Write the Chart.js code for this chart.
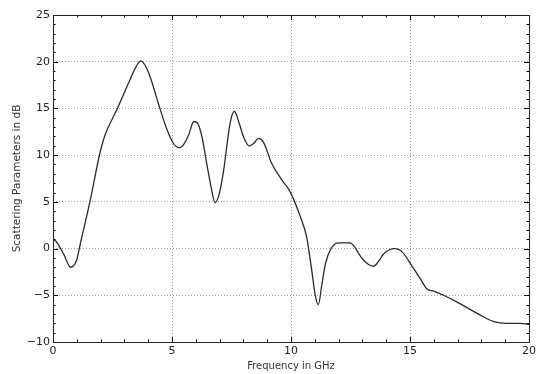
<!DOCTYPE html>
<html>
<head>
<meta charset="utf-8">
<script src="https://cdn.jsdelivr.net/npm/chart.js@4"></script>
<style>
  html, body { margin: 0; padding: 0; background: #fff; }
  #wrap { width: 537px; height: 374px; }
</style>
</head>
<body>
<div id="wrap"><canvas id="chart"></canvas></div>
<script>
// frequency samples (GHz) and S-parameter values (dB)
const freqGHz = [0, 0.15, 0.45, 0.74, 1.0, 1.13, 1.55, 1.97, 2.18, 2.67, 3.17, 3.5, 3.68, 3.85, 4.08, 4.43, 4.78, 5.05, 5.3, 5.45, 5.69, 5.92, 6.1, 6.28, 6.46, 6.65, 6.81, 6.98, 7.16, 7.44, 7.62, 7.8, 8.0, 8.24, 8.45, 8.63, 8.84, 9.19, 9.6, 9.96, 10.38, 10.66, 10.87, 11.02, 11.15, 11.3, 11.45, 11.64, 11.99, 12.48, 12.97, 13.2, 13.46, 13.7, 13.88, 14.37, 14.65, 15.14, 15.45, 15.7, 16.05, 16.5, 16.96, 17.45, 17.94, 18.5, 19.06, 19.62, 20];
const sParamDb = [1.0, 0.7, -0.6, -2.0, -1.2, 0.3, 5.0, 10.2, 12.1, 14.8, 17.7, 19.5, 20.1, 19.7, 18.4, 15.5, 12.8, 11.3, 10.8, 11.0, 12.1, 13.6, 13.3, 11.7, 9.1, 6.5, 4.9, 5.8, 8.2, 13.4, 14.7, 13.6, 12.0, 11.0, 11.3, 11.8, 11.4, 9.1, 7.4, 6.1, 3.5, 1.2, -2.3, -5.0, -6.0, -3.8, -1.6, -0.2, 0.6, 0.6, -1.0, -1.6, -1.9, -1.3, -0.6, 0.0, -0.3, -2.1, -3.3, -4.3, -4.6, -5.1, -5.7, -6.4, -7.1, -7.8, -8.0, -8.0, -8.1];
const xTicks = [0, 5, 10, 15, 20];
const yTicks = [-10, -5, 0, 5, 10, 15, 20, 25];

const points = freqGHz.map((f, i) => ({ x: f, y: sParamDb[i] }));
const fontFam = '"DejaVu Sans", sans-serif';

// inward ticks on all four sides plus a full frame, matplotlib style
const frameTicks = {
  id: 'frameTicks',
  afterDraw(chart) {
    const { ctx, chartArea: a, scales } = chart;
    const xs = scales.x, ys = scales.y;
    ctx.save();
    ctx.strokeStyle = '#000';
    ctx.lineWidth = 1;
    const line = (x1, y1, x2, y2) => {
      ctx.beginPath(); ctx.moveTo(x1, y1); ctx.lineTo(x2, y2); ctx.stroke();
    };
    for (let v = 0; v <= 20; v += 1) {
      const px = Math.round(xs.getPixelForValue(v)) + 0.5;
      const len = v % 5 === 0 ? 5 : 2.5;
      line(px, a.bottom, px, a.bottom - len);
      line(px, a.top, px, a.top + len);
    }
    for (let v = -10; v <= 25; v += 1) {
      const py = Math.round(ys.getPixelForValue(v)) + 0.5;
      const len = v % 5 === 0 ? 5 : 2.5;
      line(a.left, py, a.left + len, py);
      line(a.right, py, a.right - len, py);
    }
    ctx.strokeStyle = '#222';
    ctx.strokeRect(Math.round(a.left) + 0.5, Math.round(a.top) + 0.5,
      Math.round(a.right - a.left), Math.round(a.bottom - a.top));
    ctx.restore();
  }
};

new Chart(document.getElementById('chart'), {
  type: 'scatter',
  data: {
    datasets: [{
      data: points,
      showLine: true,
      borderColor: '#2a2a2a',
      borderWidth: 1.3,
      pointRadius: 0,
      cubicInterpolationMode: 'monotone',
      fill: false
    }]
  },
  options: {
    responsive: true,
    maintainAspectRatio: false,
    animation: false,
    layout: { padding: { left: 11, right: 0, top: 15, bottom: 0 } },
    plugins: { legend: { display: false }, tooltip: { enabled: false } },
    scales: {
      x: {
        type: 'linear', min: 0, max: 20,
        afterBuildTicks: s => { s.ticks = xTicks.map(v => ({ value: v })); },
        afterFit: s => { s.height = 32; s.paddingRight = 8; },
        grid: { color: '#a0a0a0', lineWidth: 1, drawTicks: false },
        border: { display: false, dash: [1, 2] },
        ticks: { color: '#222', padding: 3, font: { family: fontFam, size: 11 },
                 callback: v => String(v).replace('-', '\u2212') },
        title: { display: true, text: 'Frequency in GHz', color: '#333', padding: { top: 0, bottom: 2 },
                 font: { family: fontFam, size: 10 } }
      },
      y: {
        type: 'linear', min: -10, max: 25,
        afterBuildTicks: s => { s.ticks = yTicks.map(v => ({ value: v })); },
        afterFit: s => { s.width = 42; },
        grid: { color: '#a0a0a0', lineWidth: 1, drawTicks: false },
        border: { display: false, dash: [1, 2] },
        ticks: { color: '#222', padding: 3, font: { family: fontFam, size: 11 },
                 callback: v => String(v).replace('-', '\u2212') },
        title: { display: true, text: 'Scattering Parameters in dB', color: '#333', padding: { top: 0, bottom: 4 },
                 font: { family: fontFam, size: 10.5 } }
      }
    }
  },
  plugins: [frameTicks]
});
</script>
</body>
</html>
